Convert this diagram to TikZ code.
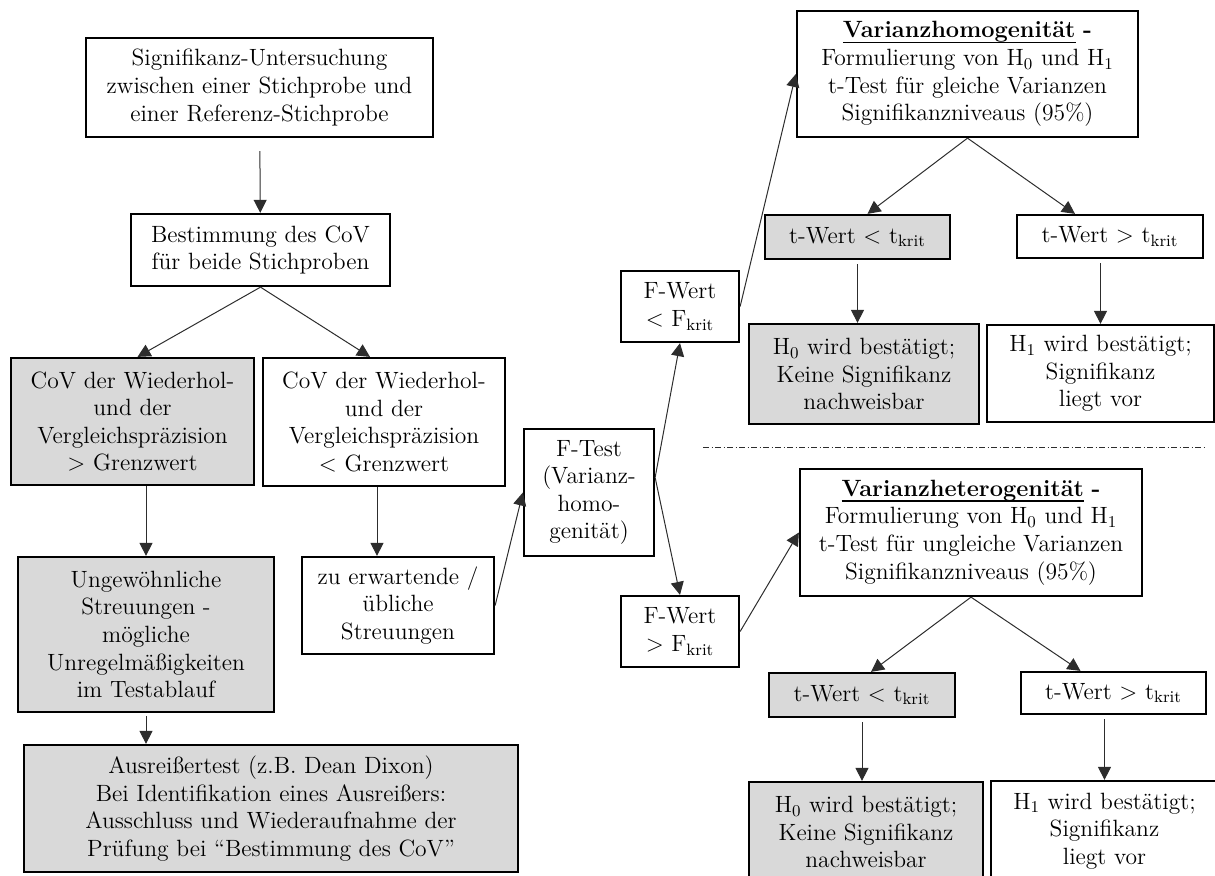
\documentclass[tikz,border=0pt]{standalone}
\usepackage{xcolor}
\usetikzlibrary{calc, arrows.meta}

\definecolor{boxgray}{RGB}{217,217,217}
\definecolor{linegray}{RGB}{45,45,45}

% bold word with a line under it
\newcommand{\ulbold}[1]{\setbox0\hbox{\textbf{#1}}\rlap{\rule[-0.22em]{\wd0}{0.06em}}\box0\relax}

\tikzset{
  box/.style={draw=black, line width=0.45mm, align=center, inner sep=0pt,
    font=\fontsize{13.4}{15.7}\selectfont},
  greybox/.style={box, fill=boxgray},
  wh/.style 2 args={minimum width=#1*0.2mm, minimum height=#2*0.2mm},
  arr/.style={draw=linegray, line width=0.2mm, -{Triangle[length=2.6mm, width=2.6mm]}},
  separator/.style={draw=linegray, line width=0.2mm,
    dash pattern=on 1.2mm off 0.5mm on 0.2mm off 0.5mm}
}

\begin{document}
\begin{tikzpicture}[x=0.2mm, y=-0.2mm]

  \useasboundingbox (0,0) rectangle (1215,875);

  % Left column
  \node[box, wh={347}{99}] (signif) at (259.5,87.5)
    {Signifikanz-Untersuchung\\zwischen einer Stichprobe und\\einer Referenz-Stichprobe};
  \node[box, wh={259}{72}] (bestimm) at (260.5,250)
    {Bestimmung des CoV\\für beide Stichproben};
  \node[greybox, wh={243}{127}] (covhigh) at (132.5,421.5)
    {CoV der Wiederhol-\\und der\\Vergleichspräzision\\> Grenzwert};
  \node[box, wh={242}{128}] (covlow) at (384,422)
    {CoV der Wiederhol-\\und der\\Vergleichspräzision\\< Grenzwert};
  \node[greybox, wh={256}{155}] (unusual) at (146,634.5)
    {Ungewöhnliche\\Streuungen -\\mögliche\\Unregelmäßigkeiten\\im Testablauf};
  \node[box, wh={192}{97}] (usual) at (398,605.5)
    {zu erwartende /\\übliche\\Streuungen};
  \node[greybox, wh={494}{127}] (outlier) at (271,808.5)
    {Ausreißertest (z.B. Dean Dixon)\\Bei Identifikation eines Ausreißers:\\Ausschluss und Wiederaufnahme der\\Prüfung bei “Bestimmung des CoV”};

  % F-Test
  \node[box, wh={130}{127}] (ftest) at (589,492.5)
    {F-Test\\(Varianz-\\homo-\\genität)};
  \node[box, wh={118}{71}] (fless) at (680,306.5)
    {F-Wert\\< F\textsubscript{krit}};
  \node[box, wh={118}{71}] (fmore) at (680,631.5)
    {F-Wert\\> F\textsubscript{krit}};

  % Varianzhomogenitaet
  \node[box, wh={341}{126}] (homo) at (967.5,74)
    {\ulbold{Varianzhomogenität} \textbf{-}\\Formulierung von H\textsubscript{0} und H\textsubscript{1}\\t-Test für gleiche Varianzen\\Signifikanzniveaus (95\%)};
  \node[greybox, wh={185}{44}] (homoless) at (857.5,237)
    {t-Wert < t\textsubscript{krit}};
  \node[box, wh={186}{43}] (homomore) at (1110,236.5)
    {t-Wert > t\textsubscript{krit}};
  \node[greybox, wh={230}{100}] (homonull) at (864,374)
    {H\textsubscript{0} wird bestätigt;\\Keine Signifikanz\\nachweisbar};
  \node[box, wh={227}{97}] (homoone) at (1100.5,373.5)
    {H\textsubscript{1} wird bestätigt;\\Signifikanz\\liegt vor};

  % Separator
  \coordinate (sepleft) at (703,447);
  \coordinate (sepright) at (1207,447);
  \draw[separator] (sepleft) -- (sepright);

  % Varianzheterogenitaet
  \node[box, wh={342}{127}] (hetero) at (971,532.5)
    {\ulbold{Varianzheterogenität} \textbf{-}\\Formulierung von H\textsubscript{0} und H\textsubscript{1}\\t-Test für ungleiche Varianzen\\Signifikanzniveaus (95\%)};
  \node[greybox, wh={186}{44}] (heteroless) at (862,695)
    {t-Wert < t\textsubscript{krit}};
  \node[box, wh={185}{42}] (heteromore) at (1113.5,693)
    {t-Wert > t\textsubscript{krit}};
  \node[greybox, wh={234}{100}] (heteronull) at (866,832)
    {H\textsubscript{0} wird bestätigt;\\Keine Signifikanz\\nachweisbar};
  \node[box, wh={227}{100}] (heteroone) at (1104.5,831)
    {H\textsubscript{1} wird bestätigt;\\Signifikanz\\liegt vor};

  % Connectors, left part
  \draw[arr, shorten <=2.6mm] (signif) -- (bestimm);
  \draw[arr] (bestimm.south) -- ([xshift=1mm]covhigh.north);
  \draw[arr] (bestimm.south) -- ([xshift=-2.8mm]covlow.north);
  \draw[arr] (unusual.north |- covhigh.south) -- (unusual.north);
  \draw[arr] ([xshift=-1.4mm]covlow.south) -- ([xshift=-1.4mm]covlow.south |- usual.north);
  \draw[arr, shorten <=0.6mm] (unusual.south) -- (unusual.south |- outlier.north);
  \draw[arr] (usual.east) -- (ftest.west);

  % Connectors, F-Test
  \coordinate (fout) at ([yshift=3mm]ftest.east);
  \draw[arr] (fout) -- (fless.south);
  \draw[arr] (fout) -- (fmore.north);
  \draw[arr] (fless.east) -- (homo.west);
  \draw[arr] (fmore.east) -- (hetero.west);

  % Connectors, right part
  \draw[arr] (homo.south) -- ([xshift=2mm]homoless.north);
  \draw[arr] (homo.south) -- ([xshift=-7mm]homomore.north);
  \draw[arr, shorten <=0.8mm] (homoless.south) -- (homoless.south |- homonull.north);
  \draw[arr, shorten <=0.8mm] (homoone.north |- homomore.south) -- (homoone.north);
  \draw[arr] (hetero.south) -- ([xshift=1.8mm]heteroless.north);
  \draw[arr] (hetero.south) -- ([xshift=-6.6mm]heteromore.north);
  \draw[arr, shorten <=0.8mm] (heteroless.south) -- (heteroless.south |- heteronull.north);
  \draw[arr, shorten <=0.8mm] (heteroone.north |- heteromore.south) -- (heteroone.north);

\end{tikzpicture}
\end{document}
